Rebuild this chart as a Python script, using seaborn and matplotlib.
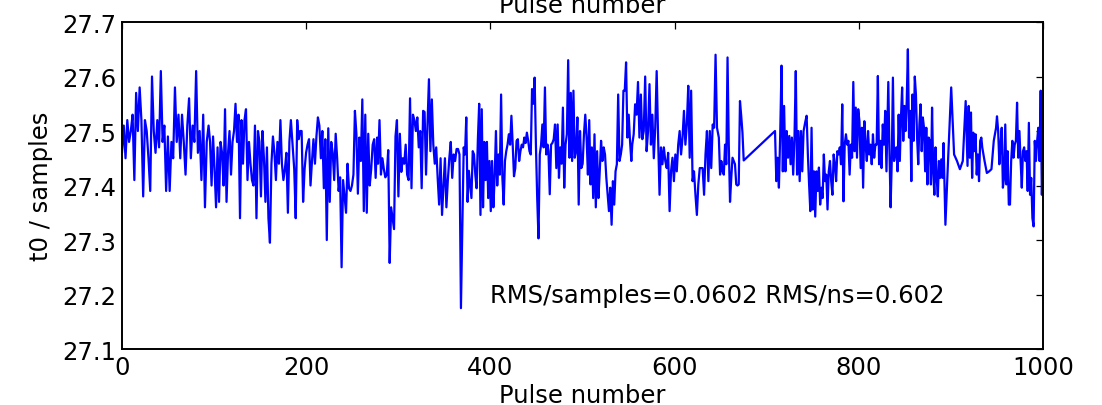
import numpy as np
import pandas as pd
import matplotlib
matplotlib.use("Agg")
import matplotlib.pyplot as plt
import seaborn as sns

# ---- data: t0 values (samples), in pulse-number runs ----
t0_a = [27.46, 27.51, 27.45, 27.52, 27.48, 27.50, 27.53, 27.41, 27.57, 27.50, 27.58, 27.52, 27.38,
        27.52, 27.50, 27.45, 27.39, 27.60, 27.50, 27.46, 27.52, 27.47, 27.61, 27.48, 27.51, 27.39,
        27.49, 27.39, 27.48, 27.45, 27.58, 27.48, 27.53, 27.45, 27.53, 27.48, 27.42, 27.51, 27.56,
        27.45, 27.51, 27.48, 27.61, 27.46, 27.50, 27.41, 27.53, 27.36, 27.48]
t0_b = [27.51, 27.48, 27.40, 27.49, 27.43, 27.36, 27.47, 27.37, 27.48, 27.46, 27.40, 27.54, 27.37,
        27.46, 27.50, 27.42, 27.48, 27.50, 27.55, 27.48, 27.53, 27.34, 27.52, 27.44, 27.52, 27.54,
        27.41, 27.48, 27.44, 27.41, 27.40, 27.51, 27.34, 27.50, 27.48, 27.38, 27.50, 27.45, 27.37,
        27.47, 27.34, 27.295, 27.44, 27.49, 27.46, 27.41, 27.48, 27.44, 27.52, 27.44, 27.41, 27.43,
        27.46, 27.35, 27.48, 27.52, 27.48]
t0_c = [27.43, 27.34, 27.52, 27.485, 27.50, 27.50, 27.37, 27.43, 27.46, 27.475, 27.485, 27.40,
        27.445, 27.485, 27.44, 27.49, 27.525, 27.51, 27.45, 27.50, 27.395, 27.485, 27.30, 27.505,
        27.37, 27.48, 27.46, 27.41, 27.495, 27.45, 27.39, 27.415, 27.25, 27.41, 27.38, 27.35, 27.44,
        27.395, 27.39, 27.40, 27.42, 27.537, 27.495, 27.385, 27.488, 27.445, 27.558, 27.353, 27.53,
        27.35, 27.495, 27.40, 27.43, 27.475, 27.485, 27.414, 27.488]
t0_d = [27.44, 27.52, 27.42, 27.45, 27.43, 27.415, 27.42, 27.465, 27.258, 27.36, 27.34, 27.32,
        27.49, 27.52, 27.38, 27.495, 27.425, 27.45, 27.44, 27.475, 27.42, 27.41, 27.56, 27.395,
        27.53, 27.52, 27.50, 27.525, 27.47, 27.50, 27.395, 27.537, 27.535, 27.42, 27.512, 27.595,
        27.463, 27.558, 27.475, 27.44, 27.47, 27.414, 27.365, 27.45, 27.346, 27.40, 27.45, 27.36,
        27.41, 27.45, 27.48, 27.414, 27.457, 27.445, 27.467, 27.467, 27.457, 27.175]
t0_e = [27.47, 27.457, 27.525, 27.37, 27.427, 27.402, 27.377, 27.463, 27.457, 27.42, 27.395,
        27.485, 27.55, 27.346, 27.54, 27.36, 27.48, 27.41, 27.48, 27.377, 27.445, 27.353, 27.445,
        27.36, 27.414, 27.50, 27.40, 27.457, 27.42, 27.567, 27.414, 27.365, 27.445, 27.463, 27.475,
        27.494, 27.475, 27.528, 27.475, 27.417, 27.432, 27.482, 27.485, 27.445, 27.463, 27.475,
        27.47, 27.488, 27.478, 27.497, 27.482, 27.463, 27.457, 27.577, 27.55, 27.598, 27.475,
        27.377, 27.303, 27.457, 27.475, 27.512, 27.47, 27.58, 27.457, 27.475]
t0_f = [27.463, 27.384, 27.475, 27.478, 27.485, 27.512, 27.432, 27.512, 27.414, 27.47, 27.44,
        27.543, 27.396, 27.475, 27.494, 27.63, 27.451, 27.57, 27.445, 27.574, 27.451, 27.463,
        27.525, 27.365, 27.50, 27.432, 27.44, 27.494, 27.53, 27.488, 27.42, 27.52, 27.402, 27.47,
        27.377, 27.494, 27.36, 27.463, 27.377, 27.426, 27.482, 27.445, 27.47, 27.457, 27.414,
        27.383, 27.353, 27.396, 27.328, 27.408, 27.365, 27.426, 27.439, 27.567, 27.445, 27.457,
        27.475, 27.574, 27.574, 27.626, 27.488, 27.53, 27.482, 27.445]
t0_g = [27.475, 27.494, 27.549, 27.53, 27.59, 27.488, 27.567, 27.485, 27.50, 27.60, 27.463, 27.50,
        27.586, 27.475, 27.53, 27.45, 27.506, 27.61, 27.488, 27.383, 27.47, 27.439, 27.47, 27.445,
        27.432, 27.46, 27.353, 27.426, 27.451, 27.408, 27.457, 27.426, 27.475, 27.50, 27.457,
        27.488, 27.537, 27.475, 27.512, 27.583, 27.451, 27.574, 27.408, 27.426, 27.383, 27.346,
        27.402, 27.432, 27.432, 27.432, 27.383, 27.457, 27.50, 27.408, 27.50, 27.432, 27.512,
        27.506, 27.64, 27.506]
t0_h = [27.488, 27.42, 27.445, 27.426, 27.42, 27.475, 27.439, 27.635, 27.475, 27.37, 27.414,
        27.451, 27.445, 27.439, 27.402, 27.40, 27.402, 27.555, 27.528, 27.497, 27.446]
t0_i = [27.50, 27.408, 27.451, 27.396, 27.494, 27.62, 27.426, 27.546, 27.426, 27.50, 27.451,
        27.491, 27.439, 27.488, 27.42, 27.488, 27.61, 27.42, 27.50, 27.408, 27.50, 27.426, 27.50]
t0_j = [27.518, 27.528, 27.457, 27.402, 27.353, 27.506, 27.356, 27.426, 27.343, 27.426, 27.39,
        27.433, 27.365, 27.396, 27.377, 27.457, 27.408, 27.42, 27.356, 27.426, 27.445, 27.408,
        27.383, 27.457, 27.439, 27.408, 27.463, 27.457, 27.47, 27.439, 27.549, 27.371, 27.475,
        27.494, 27.475, 27.482, 27.42, 27.475, 27.451, 27.59, 27.463, 27.543, 27.451, 27.54,
        27.518, 27.432, 27.506, 27.396, 27.518, 27.475, 27.445, 27.50, 27.457, 27.475, 27.439,
        27.494, 27.451, 27.475, 27.475, 27.601, 27.439, 27.482, 27.432, 27.512, 27.475, 27.537,
        27.426]
t0_k = [27.59, 27.463, 27.36, 27.445, 27.598, 27.445, 27.463, 27.47, 27.426, 27.53, 27.445,
        27.525, 27.58, 27.482, 27.546, 27.50, 27.555, 27.65, 27.488, 27.537, 27.408, 27.567,
        27.482, 27.60, 27.567, 27.488, 27.439, 27.512, 27.549, 27.463, 27.525, 27.506, 27.426,
        27.506, 27.402, 27.488, 27.482, 27.402, 27.543, 27.426, 27.383, 27.47, 27.414, 27.38,
        27.445, 27.414, 27.448, 27.414, 27.478]
t0_l = [27.328, 27.457, 27.58, 27.457, 27.445, 27.43, 27.445, 27.555]
t0_m = [27.436, 27.546, 27.451, 27.534, 27.414, 27.497, 27.463, 27.494, 27.42, 27.457, 27.408,
        27.482, 27.488]
t0_n = [27.47, 27.445, 27.423, 27.426, 27.43, 27.482, 27.506]
t0_o = [27.527, 27.50, 27.439, 27.475, 27.506, 27.396, 27.414, 27.512, 27.402, 27.463, 27.365,
        27.365, 27.445, 27.482, 27.451, 27.475, 27.482, 27.552, 27.451, 27.50, 27.445, 27.396,
        27.463, 27.47, 27.445, 27.463, 27.39, 27.515, 27.383, 27.414, 27.34, 27.325, 27.482,
        27.445, 27.482, 27.506, 27.445, 27.574, 27.383, 27.475]

# first and last pulse number of each run
run_t0 = [t0_a, t0_b, t0_c, t0_d, t0_e, t0_f, t0_g, t0_h, t0_i, t0_j, t0_k, t0_l, t0_m, t0_n, t0_o]
run_pulses = [(0, 92), (94, 185), (187, 277), (278, 368), (371, 462), (463, 553), (554, 646),
              (648, 675), (709, 740), (742, 830), (832, 892), (894, 916), (918, 933),
              (934, 949), (950, 1000)]

x_ticks = [0, 200, 400, 600, 800, 1000]
y_ticks = [27.1, 27.2, 27.3, 27.4, 27.5, 27.6, 27.7]
annotation = "RMS/samples=0.0602 RMS/ns=0.602"

pulse = np.concatenate([np.linspace(a, b, len(v)) for (a, b), v in zip(run_pulses, run_t0)])
t0 = np.concatenate([np.asarray(v, float) for v in run_t0])
df = pd.DataFrame({"pulse": pulse, "t0": t0})

# ---- style ----
sns.set_theme(style="white")
plt.rcParams.update({
    "font.family": ["DejaVu Sans"],
    "xtick.direction": "in", "ytick.direction": "in",
    "xtick.top": True, "ytick.right": True,
    "xtick.major.size": 5, "ytick.major.size": 5,
    "xtick.major.width": 0.9, "ytick.major.width": 0.9,
    "xtick.color": "black", "ytick.color": "black",
    "axes.edgecolor": "black", "axes.linewidth": 1.4,
})

FS = 17.5
fig = plt.figure(figsize=(11.02, 4.06), dpi=100)
ax = fig.add_axes([0.1107, 0.1379, 0.8358, 0.8054])

sns.lineplot(data=df, x="pulse", y="t0", ax=ax, color="#0000ff", linewidth=1.6,
             estimator=None, sort=False)

ax.set_xlim(0, 1000)
ax.set_ylim(27.1, 27.7)
ax.set_xticks(x_ticks)
ax.set_yticks(y_ticks)
ax.set_yticklabels([f"{v:.1f}" for v in y_ticks])
ax.tick_params(labelsize=FS, colors="black", pad=4)
ax.set_xlabel("Pulse number", fontsize=FS, color="black", labelpad=3)
ax.set_ylabel("t0 / samples", fontsize=FS, color="black", labelpad=7)
ax.set_title("Pulse number", fontsize=FS, color="black", pad=7)
ax.text(400, 27.2, annotation, fontsize=FS, color="black", va="center", ha="left")

fig.savefig("out.png", dpi=100)
